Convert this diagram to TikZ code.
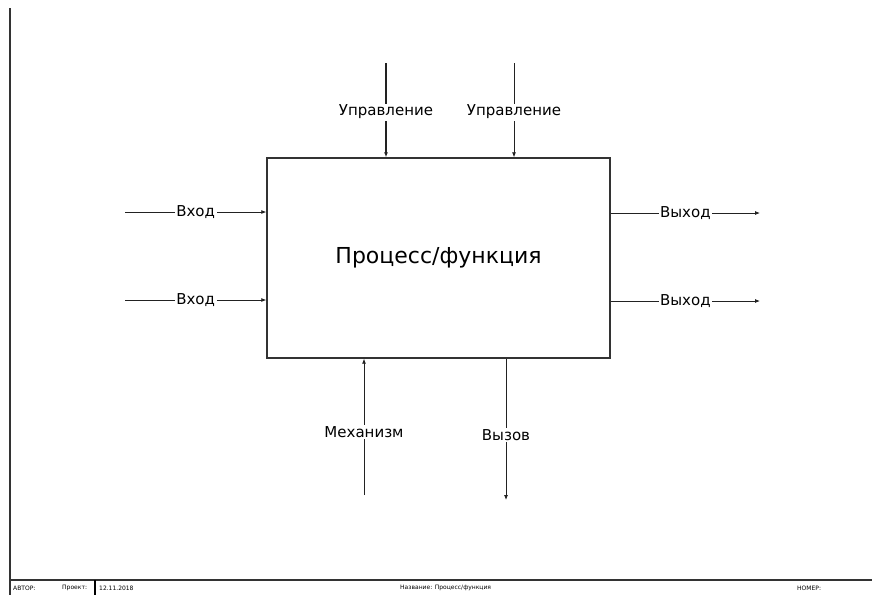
\documentclass[tikz,border=0pt]{standalone}
\usepackage{fontspec}
\setmainfont{DejaVu Sans}
\usetikzlibrary{positioning,arrows.meta}
\usepackage{xcolor}
\definecolor{framegray}{HTML}{333333}
\definecolor{inkgray}{HTML}{222222}

\begin{document}
\begin{tikzpicture}[
  x=1pt, y=-1pt,
  procbox/.style={draw=framegray, line width=1.4pt, minimum width=343pt,
                  minimum height=200pt, inner sep=0pt, font=\fontsize{22}{26}\selectfont},
  arr/.style={-{Latex[length=5pt,width=4pt]}, draw=inkgray, line width=0.8pt},
  lbl/.style={fill=white, inner sep=1.5pt, font=\fontsize{15}{17}\selectfont},
  foot/.style={font=\fontsize{6}{7}\selectfont, anchor=west, inner sep=0pt}
]
  \useasboundingbox (0,0) rectangle (872,595);

  % Frame
  \draw[framegray, line width=1.6pt] (10,8) -- (10,595);
  \draw[framegray, line width=1.2pt] (10,580) -- (872,580);
  \draw[black, line width=2pt] (95,580) -- (95,595);

  % Footer
  \node[foot] (author) at (13,588) {АВТОР:};
  \node[foot] (proj) at (62,588) {Проект:};
  \node[foot] (date) at (99,588) {12.11.2018};
  \node[foot] (title) at (400,588) {Название: Процесс/функция};
  \node[foot] (num) at (797,588) {НОМЕР:};

  % Process box
  \node[procbox] (proc) at (438.5,258) {Процесс/функция};

  % Controls
  \coordinate (ctl1) at (386,63);
  \coordinate (ctl2) at (514,63);
  \draw[arr, line width=1.8pt] (ctl1) -- node[lbl, pos=0.52] {Управление} (ctl1 |- proc.north);
  \draw[arr] (ctl2) -- node[lbl, pos=0.52] {Управление} (ctl2 |- proc.north);

  % Inputs
  \coordinate (in1) at (125,212);
  \coordinate (in2) at (125,300);
  \draw[arr] (in1) -- node[lbl, pos=0.5] {Вход} (in1 -| proc.west);
  \draw[arr] (in2) -- node[lbl, pos=0.5] {Вход} (in2 -| proc.west);

  % Outputs
  \coordinate (out1) at (760,213);
  \coordinate (out2) at (760,301);
  \draw[arr] (out1 -| proc.east) -- node[lbl, pos=0.5] {Выход} (out1);
  \draw[arr] (out2 -| proc.east) -- node[lbl, pos=0.5] {Выход} (out2);

  % Mechanism and call
  \coordinate (mech) at (364,495);
  \coordinate (call) at (506,500);
  \draw[arr] (mech) -- node[lbl, pos=0.46] {Механизм} (mech |- proc.south);
  \draw[arr] (call |- proc.south) -- node[lbl, pos=0.54] {Вызов} (call);
\end{tikzpicture}
\end{document}
